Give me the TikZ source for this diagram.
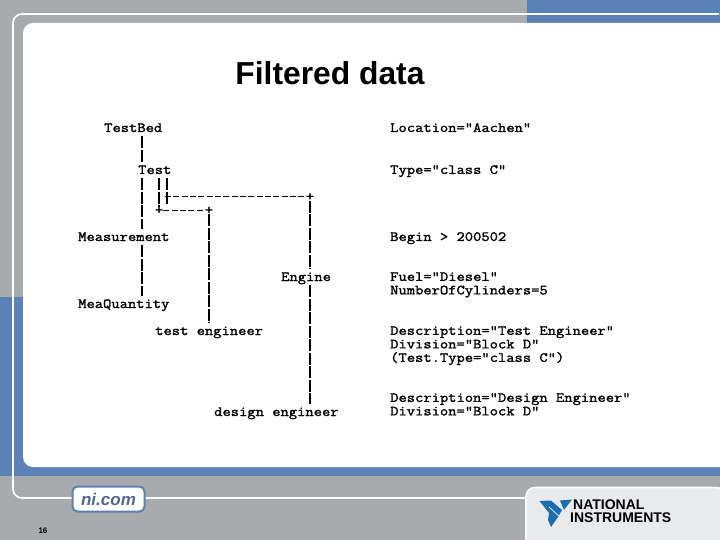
\documentclass[tikz,border=0pt]{standalone}
\usepackage{fontspec}
\setsansfont{Liberation Sans}
\newfontfamily\codefont[FakeBold=1.6, FakeStretch=1.15]{Latin Modern Mono}
\usetikzlibrary{positioning}

\definecolor{slidegray}{HTML}{A7ABAE}
\definecolor{slideblue}{HTML}{5B82B6}
\definecolor{logoblue}{HTML}{1B6DB0}
\definecolor{panelgray}{HTML}{E9EAEC}
\definecolor{niborder}{HTML}{5E80AE}
\definecolor{nitext}{HTML}{54688F}

\tikzstyle{label} = [anchor=west, inner sep=0, text height=12pt, text depth=4pt, font=\fontsize{14}{14}\codefont]
\tikzstyle{attrib} = [anchor=north west, inner sep=0, align=left, font=\fontsize{14}{13.5}\codefont]
\tikzstyle{plus} = [inner sep=0, font=\fontsize{14}{14}\codefont]
\tikzstyle{bar} = [draw, line width=1.8pt, dash pattern=on 12pt off 1.5pt]
\tikzstyle{rule} = [draw, line width=1pt, dash pattern=on 6pt off 2.33pt]
\tikzstyle{whiteline} = [draw=white, line width=1.6pt]

\begin{document}
\begin{tikzpicture}[x=1pt, y=-1pt]
	\useasboundingbox (0,0) rectangle (720,540);

	\fill[slidegray] (0,0) rectangle (720,540); % background
	\fill[slideblue] (527,0) rectangle (720,23);
	\fill[slideblue] (0,297) rectangle (40,476);
	\fill[slideblue] (0,467) rectangle (720,476);
	\fill[white, rounded corners=10pt] (23,23) rectangle (740,467); % panel

	\draw[whiteline, rounded corners=9pt] (719,14) -- (13,14) -- (13,498) -- (72,498); % frame
	\draw[whiteline] (145,498) -- (526,498);
	\draw[whiteline, fill=panelgray, rounded corners=9pt] (526,545) -- (526,487.5) -- (725,487.5) -- (725,545);

	\node[font=\fontsize{31.8}{32}\sffamily\bfseries] (title) at (330,73) {Filtered data};

	% tree
	\node[label] (testbed) at (104,128) {TestBed};
	\node[label] (test) at (138,170) {Test};
	\node[label] (measurement) at (78,237) {Measurement};
	\node[label] (engine) at (281,277) {Engine};
	\node[label] (meaquantity) at (78,304) {MeaQuantity};
	\node[label] (testeng) at (155,331) {test engineer};
	\node[label] (designeng) at (214,412) {design engineer};

	\node[plus] (plusa) at (310,197) {+};
	\node[plus] (plusb) at (159,210.5) {+};
	\node[plus] (plusc) at (209,210.5) {+};
	\coordinate (trunk) at (142,0);
	\coordinate (elbow) at (167,197);

	\draw[bar] (testbed.south -| trunk) -- (test.north -| trunk);
	\draw[bar] (test.south -| trunk) -- (measurement.north -| trunk);
	\draw[bar] (measurement.south -| trunk) -- (meaquantity.north -| trunk);
	\draw[bar] (test.south -| plusb) -- (plusb.north);
	\draw[bar] (test.south -| elbow) -- ([yshift=-7pt]elbow);
	\draw[rule] ([xshift=-2pt]elbow) -- (plusa.west);
	\draw[rule] (plusb.east) -- (plusc.west);
	\draw[bar] (plusc.south) -- (testeng.north -| plusc);
	\draw[bar] (plusa.south) -- (engine.north -| plusa);
	\draw[bar] (engine.south -| plusa) -- (designeng.north -| plusa);

	% attributes
	\node[attrib] (location) at (390,123) {Location="Aachen"};
	\node[attrib] (type) at (390,165) {Type="class C"};
	\node[attrib] (begin) at (390,232) {Begin > 200502};
	\node[attrib] (fuel) at (390,272) {Fuel="Diesel"\\NumberOfCylinders=5};
	\node[attrib] (descra) at (390,326) {Description="Test Engineer"\\Division="Block D"\\(Test.Type="class C")};
	\node[attrib] (descrb) at (390,393) {Description="Design Engineer"\\Division="Block D"};

	% footer
	\node[draw=niborder, line width=2pt, fill=white, rounded corners=5pt, minimum width=72pt, minimum height=25pt, inner sep=0, text=nitext, font=\fontsize{17}{17}\sffamily\bfseries\itshape] (nicom) at (108.5,499) {ni.com};
	\node[font=\fontsize{8}{8}\sffamily\bfseries] (page) at (43,531) {16};

	\fill[logoblue] (539.5,501) -- (551,500.5) -- (562,510) -- (558,517) -- (551,527) -- (548,520) -- (549,513) -- cycle; % logo
	\fill[logoblue] (560,500.5) -- (572,499.5) -- (564,510) -- cycle;
	\draw[panelgray, line width=0.8pt] (549,507) -- (560,517);
	\node[anchor=west, inner sep=0, font=\fontsize{14}{14}\sffamily\bfseries] (national) at (573,505) {NATIONAL};
	\node[anchor=west, inner sep=0, font=\fontsize{14}{14}\sffamily\bfseries] (instruments) at (570,518) {INSTRUMENTS};

\end{tikzpicture}
\end{document}
